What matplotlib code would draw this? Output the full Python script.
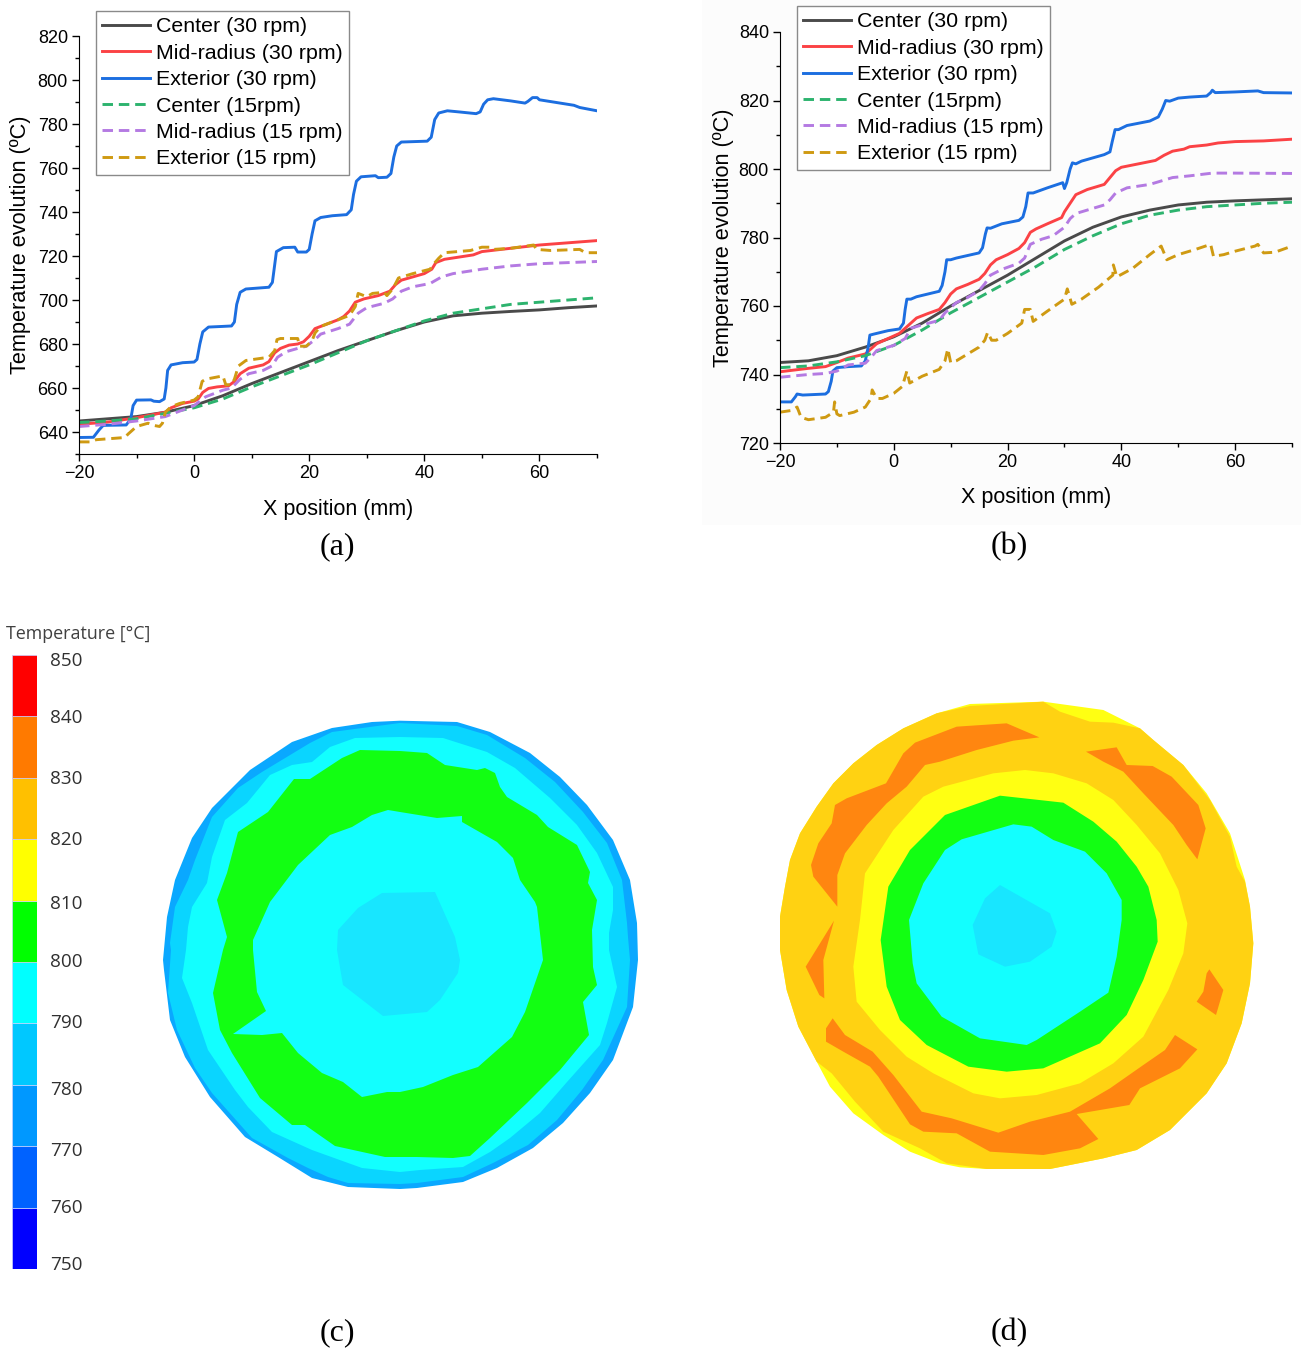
import numpy as np
import matplotlib
matplotlib.use('Agg')
import matplotlib.pyplot as plt
from matplotlib.patches import Rectangle
from matplotlib.ticker import MultipleLocator

W, H = 1301, 1351

series_labels = ['Center (30 rpm)', 'Mid-radius (30 rpm)', 'Exterior (30 rpm)',
                 'Center (15rpm)', 'Mid-radius (15 rpm)', 'Exterior (15 rpm)']
series_colors = ['#4a4a4a', '#fb4245', '#1c6ee0', '#2db36e', '#b47ae2', '#cf9a12']

# panel (a), (x mm, temperature)
a_center_30 = [(-20,645),(-15,646),(-10,647),(-5,649),(0,652),(5,656.5),(10,662),(15,667),(20,672),(25,677),(30,681.5),
               (35,686),(40,690),(45,692.8),(50,694),(55,694.8),(60,695.5),(65,696.5),(70,697.3)]
a_mid_30 = [(-20,643.5),(-15,644.5),(-10,646.5),(-5,649),(-4,651),(-2,653),(0,654),(0.7,655),(1.5,658),(2.5,659.8),(4,660.5),
            (6,661),(7,663),(8,666.5),(9.5,669),(12,670.5),(13,672),(14,676),(15,678),(16.5,679.5),(18,680),(19,681),(20,683.5),
            (21,687),(23,689),(25,691),(26,692.5),(27,695),(28,699),(29.5,700.5),(32,702),(34,704),(35,707),(36,709),(38,710.5),
            (40,712),(41.3,714),(42,717),(43.5,718.5),(46,719.5),(48.5,720.5),(50,722),(55,723.5),(60,725),(65,726),(70,727)]
a_ext_30 = [(-20,637.5),(-17.5,637.6),(-16.5,641),(-15.8,643),(-11.8,643.2),(-11,646),(-10.6,652),(-10,654.5),(-7.5,654.6),(-7,654),
            (-6,653.8),(-5.2,655),(-4.9,660),(-4.6,668),(-4,670.5),(-2,671.5),(0,671.8),(0.5,673),(1,680),(1.5,685.5),(2.5,687.7),
            (5,688),(6.5,688.2),(7,690),(7.4,698),(8,703.5),(9,705),(13,705.8),(13.6,708),(14,716),(14.3,722),(15.5,723.8),(17.5,724),
            (18,721.8),(19.5,721.8),(20,723),(20.5,730),(21,736),(22,737.5),(24,738.3),(26.5,738.8),(27.3,741),(27.7,748),(28.2,754),
            (29,756),(31.5,756.5),(32,755.6),(33.5,755.8),(34.2,757.5),(34.7,765),(35.2,770),(36,771.8),(40.5,772.2),(41.2,774),
            (41.8,782),(42.5,785),(44,786),(46,785.5),(49,784.7),(49.7,785.5),(50.3,789),(51,791),(52,791.5),(55,790.5),(57.5,789.5),
            (58,790.3),(58.8,792),(59.6,792),(60,791),(66,788.5),(67,787.5),(70,786)]
a_center_15 = [(-20,644.3),(-15,645),(-10,646),(-5,648.5),(0,651),(5,655),(10,660.5),(15,665.5),(20,670.5),(25,676),(30,681.5),
               (35,686),(40,690.5),(45,694),(50,696),(55,698),(60,699),(65,700),(70,701)]
a_mid_15 = [(-20,642.5),(-15,643.5),(-10,645),(-5,647),(0,652),(1,654),(2,656),(5,659),(6.5,660),(8,664),(9.5,666.5),(12,668),
            (13.5,670),(14.5,674),(16,676.5),(18,678),(19.5,679),(21,682),(22,684.5),(25,687),(27,689),(28.5,694),(30,696.5),(33,698.5),
            (34.5,700.5),(36,704),(38,706),(41,707.5),(43,710.5),(45,712),(50,714),(55,715.5),(60,716.5),(65,717),(70,717.5)]
a_ext_15 = [(-20,635.5),(-18,635.5),(-17,636.5),(-12,637.5),(-11.5,639),(-10,642.5),(-8,644),(-7,643),(-6,642.5),(-5.5,644),(-5,649),
            (-4,651.5),(-2.5,653),(0,654.5),(0.7,656),(1.4,663),(2,664),(5,665.5),(5.5,661.5),(6.5,661.5),(7,664),(7.7,670),(9,672.5),
            (13,674),(14,677),(14.4,682),(15,682.5),(18,682.5),(18.3,679),(19.5,679),(20.5,681.5),(21,685),(22,688),(25,691),(27,693),
            (28,697),(28.5,703),(30,701.5),(31,703),(33,703.5),(33.5,702),(34.5,705),(35.5,710),(38,712),(41,714),(41.5,716),(42.5,719),
            (43.5,721.5),(48,722.5),(50,724),(51.5,724),(52,723),(55,723.5),(59,725),(59.5,723),(62,722.5),(67,723),(68,721.5),(70,721.5)]

# panel (b)
b_center_30 = [(-20,743.5),(-15,744),(-10,745.5),(-5,748),(0,751),(5,755),(10,760),(15,764.5),(20,769),(25,774),(30,779),(35,783),
               (40,786),(45,788),(50,789.5),(55,790.3),(60,790.7),(65,791),(70,791.3)]
b_mid_30 = [(-20,740.8),(-15,741.8),(-12,742.3),(-10,743.5),(-8,744.8),(-5,746),(-4,747.5),(-3,749),(-1,750.5),(1,752),(2,753.5),
            (3,755),(4,756.5),(6,757.8),(8,759),(9,761),(10,763.5),(11,765),(13,766.3),(15,767.8),(16,769.5),(17,772),(18,773.5),(20,775),
            (22,776.8),(23,778.5),(24,781.5),(25,782.5),(27,784),(29.5,785.8),(30,787.5),(31,790),(32,792.5),(34,794),(37,795.5),(38,797.5),
            (39,799.5),(40,800.5),(43,801.5),(46,802.5),(47.5,804),(49,805.2),(51,805.8),(52,806.5),(55,807),(57,807.6),(60,808),(65,808.2),(70,808.7)]
b_ext_30 = [(-20,732),(-18,732),(-17.3,733.5),(-17,734.3),(-16,734),(-12,734.3),(-11.5,735),(-11,738),(-10.7,741),(-10,742),(-8,742.3),
            (-5.7,742.5),(-5,744),(-4.5,748),(-4.2,751.5),(-3.5,751.8),(-1,752.8),(1,753.3),(1.7,755),(2,759),(2.3,762),(3,762),(4,762.7),
            (8,764.3),(8.5,766),(9,770),(9.3,773.5),(10,773.5),(11,774),(15,775.5),(15.6,777),(16.1,781),(16.4,782.8),(17,782.7),(19,784),
            (22,785),(22.7,786),(23.2,789),(23.6,793),(24.5,793),(27,794.5),(29.7,796),(30,794.3),(30.4,796),(31,800),(31.4,801.8),(32,801.5),
            (33,802.3),(37,804.2),(38,805),(38.4,808),(38.9,811.5),(39.5,811.5),(41,812.7),(45,814),(46.5,815.2),(47.2,817.5),(47.8,820),
            (48.5,819.8),(50,820.7),(52,821),(55,821.3),(55.7,822.3),(56,823),(56.5,822.3),(60,822.5),(64,822.8),(65,822.3),(70,822.2)]
b_center_15 = [(-20,742),(-15,742.5),(-10,743.7),(-5,745.5),(0,748.5),(5,753),(10,758),(15,762.5),(20,767),(25,771.5),(30,776.5),
               (35,780.5),(40,784),(45,786.5),(50,788),(55,789),(60,789.5),(65,790),(70,790.3)]
b_mid_15 = [(-20,739.2),(-15,740),(-12,740.3),(-10,741),(-8,742.8),(-5,743.3),(-4,745),(-3,747),(0,748.5),(2,750.5),(3,753.5),(5,754.5),
            (8,755.8),(9,758),(11,761),(13,762.5),(15,764.5),(16,766.5),(17,769),(19,770.7),(22,772.5),(23,774),(24,778),(26,779.5),(28,780.5),
            (30,783),(31,785.5),(32,787),(34,788),(37,789.5),(38,791),(39,793),(41,794.5),(45,795.5),(47,796.5),(49,797.5),(52,798),(56,798.8),
            (60,798.8),(70,798.7)]
b_ext_15 = [(-20,729),(-18,729.5),(-17,730.5),(-16.3,727.5),(-15,726.8),(-12,727.5),(-10.6,729),(-10.4,732),(-10,728.5),(-9.5,728),(-7,729),
            (-5,730.5),(-4,733),(-3.8,735.5),(-3,733),(-2,733),(0,734.5),(1.5,736.5),(2.3,741),(2.8,737.5),(5,739.5),(8,741.5),(9,744),(9.5,747.5),
            (10,743.5),(11,744),(15,748),(16,750),(16.5,752.3),(17.2,750),(18,750),(20,752),(22.5,755),(23,759),(24,759),(24.5,755.5),(27,758.5),
            (30,762),(30.5,765),(31.3,760.5),(33,762),(36,765.5),(38.5,769),(38.6,772),(39.2,768.5),(42,771),(45,775),(47,777.5),(48,773.5),(50,775),
            (53,776.5),(55.7,778),(56.2,774.5),(58,775),(60,776),(63.5,777.5),(64,778),(65,775.5),(67,775.7),(70,777.5)]

a_series = [a_center_30, a_mid_30, a_ext_30, a_center_15, a_mid_15, a_ext_15]
b_series = [b_center_30, b_mid_30, b_ext_30, b_center_15, b_mid_15, b_ext_15]

# colour scale
cbar_levels = [750, 760, 770, 780, 790, 800, 810, 820, 830, 840]
cbar_colors = ['#0000ff', '#0062ff', '#0098ff', '#00c8ff', '#00ffff', '#00ff00', '#ffff00', '#ffc000', '#ff7a00', '#ff0000']
cbar_ticks = [850, 840, 830, 820, 810, 800, 790, 780, 770, 760, 750]
cbar_label_pos = [849.1, 839.8, 829.8, 819.9, 809.5, 800.0, 790.1, 779.2, 769.2, 760.0, 750.7]

# contour bands of panel (c), section units
c_band_770 = [(400,720.7),(457,722),(490,732),(530,753),(560,777),(587,805),(613,840),(630,880),(637,923),(638,960),(633,1007),(613,1060),
              (590,1093),(563,1123),(533,1148),(497,1168),(463,1182),(417,1188),(400,1189),(348,1187),(312,1178),(278,1157),(245,1137),(210,1097),
              (185,1057),(170,1020),(164,970),(163,960),(167,917),(175,880),(192,838),(212,808),(250,770),(292,742),(332,728),(372,722)]
c_band_780 = [(400,723),(457,726),(487,735),(525,758),(555,782),(583,812),(607,843),(622,880),(627,923),(628,937),(630,960),(627,1007),(603,1060),
              (582,1090),(557,1120),(528,1145),(493,1163),(463,1177),(417,1183),(400,1184),(348,1183),(328,1177),(308,1168),(288,1158),(252,1138),
              (212,1093),(195,1068),(177,1030),(168,993),(171,950),(170,943),(175,907),(188,880),(195,860),(212,817),(238,788),(262,772),(310,743),(332,732)]
c_band_790 = [(400,737),(443,738),(487,752),(515,768),(550,798),(577,825),(597,853),(613,887),(613,910),(609,933),(609,950),(617,987),(607,1023),
              (600,1045),(567,1082),(540,1113),(510,1138),(490,1152),(463,1167),(420,1170),(400,1172),(362,1168),(312,1150),(272,1132),(248,1107),
              (235,1090),(208,1050),(192,1003),(182,978),(186,950),(188,927),(192,907),(207,883),(212,857),(225,820),(247,803),(270,775),(292,765),
              (312,762),(330,747),(355,738)]
c_band_800 = [(400,751),(427,753),(445,765),(477,770),(485,768),(495,773),(500,787),(507,797),(537,815),(548,827),(577,845),(590,872),(588,883),
              (597,900),(592,930),(593,967),(597,985),(583,1002),(589,1035),(560,1070),(527,1103),(490,1138),(470,1156),(453,1158),(417,1157),(385,1157),
              (335,1146),(305,1125),(292,1125),(260,1098),(232,1053),(220,1030),(213,993),(223,950),(227,937),(217,900),(227,873),(238,832),(268,812),
              (294,779),(310,779),(342,758),(360,750)]
c_inner_790 = [(400,812),(437,818),(462,816),(462,822),(497,842),(513,858),(520,880),(535,902),(537,907),(543,960),(525,1012),(512,1037),(478,1067),
               (453,1075),(423,1087),(400,1092),(387,1092),(362,1097),(343,1082),(322,1073),(298,1053),(282,1033),(262,1035),(233,1034),(266,1011),
               (257,992),(253,950),(253,940),(270,902),(298,865),(330,835),(352,827),(372,815),(388,810)]
c_core = [(382,893),(435,892),(455,937),(460,960),(458,973),(440,1000),(427,1012),(383,1016),(343,985),(337,950),(338,930),(358,908)]

# contour bands of panel (d), section units
d_band_810 = [(850,35),(1030,60),(1140,115),(1180,150),(1270,225),(1340,310),(1410,430),(1455,570),(1470,650),(1480,760),(1470,880),(1445,1000),
              (1400,1120),(1340,1210),(1230,1320),(1130,1380),(1030,1405),(870,1437),(680,1437),(600,1432),(540,1420),(450,1385),(370,1335),(280,1270),
              (210,1190),(170,1115),(115,1010),(80,900),(60,780),(60,680),(75,590),(90,510),(120,430),(170,350),(220,280),(280,220),(350,165),(430,115),
              (530,70),(630,42)]
d_band_820 = [(630,48),(850,35),(900,65),(990,95),(1060,98),(1140,115),(1180,150),(1270,225),(1350,330),(1410,440),(1430,530),(1455,575),(1470,650),
              (1480,760),(1470,880),(1445,1000),(1400,1120),(1340,1210),(1230,1320),(1130,1380),(1030,1405),(870,1437),(680,1437),(560,1420),(480,1375),
              (370,1325),(285,1235),(215,1150),(170,1115),(115,1010),(80,900),(60,780),(60,680),(75,590),(90,510),(120,430),(170,350),(220,280),(280,220),
              (350,165),(430,115),(530,70)]
d_hot_1 = [(740,100),(838,142),(760,152),(650,180),(540,215),(495,225),(440,290),(380,340),(320,405),(255,490),(232,555),(232,650),(160,560),
           (153,525),(175,460),(215,400),(225,345),(260,325),(378,280),(430,190),(465,158),(590,110)]
d_hot_2 = [(978,185),(1070,172),(1100,225),(1178,228),(1235,260),(1315,345),(1337,415),(1312,508),(1280,465),(1240,405),(1150,310),(1090,245),(1030,215)]
d_hot_3 = [(222,692),(190,810),(193,925),(178,915),(137,830)]
d_hot_4 = [(1348,838),(1390,900),(1368,975),(1310,935),(1330,905),(1340,850)]
d_hot_5 = [(218,985),(255,1035),(338,1085),(400,1155),(485,1265),(575,1285),(715,1328),(810,1295),(930,1265),(1050,1195),(1150,1125),(1215,1080),
           (1245,1035),(1312,1078),(1260,1135),(1140,1195),(1108,1245),(950,1272),(1015,1347),(960,1375),(850,1395),(690,1385),(590,1330),(490,1325),
           (450,1303),(355,1160),(330,1130),(250,1085),(198,1055),(198,1015)]
d_ring_yellow = [(795,240),(880,250),(980,280),(1060,330),(1130,405),(1200,490),(1255,600),(1282,700),(1270,790),(1225,900),(1150,1040),(1060,1120),
                 (960,1180),(830,1215),(720,1225),(640,1210),(520,1150),(440,1100),(360,1020),(290,935),(280,830),(300,690),(315,550),(400,420),(490,320),
                 (550,290),(700,250)]
d_ring_green = [(720,317),(910,338),(1000,395),(1070,455),(1130,530),(1165,590),(1190,690),(1193,755),(1150,870),(1100,975),(1020,1060),(850,1135),
                (740,1145),(625,1130),(500,1065),(420,990),(380,890),(362,750),(385,590),(450,480),(555,375)]
d_ring_cyan = [(760,403),(815,410),(880,450),(975,485),(1040,550),(1085,630),(1085,690),(1070,800),(1045,908),(960,965),(830,1050),(800,1065),(660,1045),
               (545,980),(470,880),(458,820),(447,690),(490,580),(555,480),(605,448)]
d_core = [(720,585),(870,670),(890,725),(875,770),(810,815),(735,830),(655,793),(638,705),(675,625)]

plt.rcParams['font.family'] = ['Liberation Sans', 'DejaVu Sans']


def px_axes(fig, left, top, right, bottom):
    return fig.add_axes([left / W, 1 - bottom / H, (right - left) / W, (bottom - top) / H])


def plot_panel(fig, box, series, ylim, legend_box, ylabel_x, xlabel_y):
    ax = px_axes(fig, *box)
    ax.patch.set_alpha(0)
    for i, pts in enumerate(series):
        arr = np.array(pts)
        ls = '-' if i < 3 else (0, (3.6, 2.0))
        ax.plot(arr[:, 0], arr[:, 1], color=series_colors[i], lw=2.1, ls=ls, label=series_labels[i])
    ax.set_xlim(-20, 70)
    ax.set_ylim(*ylim)
    ax.spines['top'].set_visible(False)
    ax.spines['right'].set_visible(False)
    ax.set_xticks([-20, 0, 20, 40, 60])
    ax.set_xticklabels(['\u221220', '0', '20', '40', '60'])
    ax.xaxis.set_minor_locator(MultipleLocator(10))
    ax.yaxis.set_major_locator(MultipleLocator(20))
    ax.yaxis.set_minor_locator(MultipleLocator(10))
    ax.tick_params(which='major', length=5, width=1.0, labelsize=13, pad=3)
    ax.tick_params(which='minor', length=3, width=1.0)
    fig.text(ylabel_x / W, 1 - (box[1] + box[3]) / 2 / H, 'Temperature evolution (\u00baC)', rotation=90,
             fontsize=15.7, ha='center', va='center')
    fig.text((box[0] + box[2]) / 2 / W, 1 - xlabel_y / H, 'X position (mm)', fontsize=15.5, ha='center', va='center')
    ax.legend(loc='upper left', bbox_to_anchor=(legend_box[0] / W, 1 - legend_box[1] / H), bbox_transform=fig.transFigure,
              fontsize=15.4, frameon=True, fancybox=False, framealpha=1, edgecolor='#8a8a8a', borderaxespad=0,
              borderpad=0.3, labelspacing=0.345, handlelength=2.22, handletextpad=0.27)
    return ax


def section_axes(fig, box, xlim, ylim):
    ax = px_axes(fig, *box)
    ax.set_xlim(*xlim)
    ax.set_ylim(*ylim)
    ax.axis('off')
    return ax


def fill_band(ax, pts, color):
    arr = np.array(pts)
    ax.fill(arr[:, 0], arr[:, 1], color=color, lw=0)


fig = plt.figure(figsize=(W / 100, H / 100), dpi=100)

# faint grey backdrop of the (b) graph
fig.add_artist(Rectangle((702 / W, 1 - 525 / H), (W - 702) / W, 525 / H, transform=fig.transFigure,
                         facecolor='#fcfcfc', edgecolor='none', zorder=-5))

plot_panel(fig, (79, 36, 597, 454), a_series, (630, 820), (96, 11), 21, 509)
plot_panel(fig, (780, 32, 1292, 443), b_series, (720, 840), (797, 6), 723, 498)

for label, x, y in [('(a)', 337, 547), ('(b)', 1009, 547), ('(c)', 337, 1333), ('(d)', 1009, 1333)]:
    fig.text(x / W, 1 - y / H, label, family=['Liberation Serif'], fontsize=23, ha='center', va='center')

# colour bar
cax = px_axes(fig, 12, 655, 37, 1269)
cax.bar([0] * len(cbar_levels), [10] * len(cbar_levels), bottom=cbar_levels, width=1, color=cbar_colors,
        edgecolor='#c8d0ff', linewidth=0.5, align='edge')
cax.set_xlim(0, 1)
cax.set_ylim(750, 850)
cax.axis('off')
for t, pos in zip(cbar_ticks, cbar_label_pos):
    cax.text(1.52, pos, str(t), family=['Open Sans'], fontsize=13.6, color='#303030', ha='left', va='center')
fig.text(6 / W, 1 - 634 / H, 'Temperature [\u00b0C]', family=['Open Sans'], fontsize=12.9, color='#404040', ha='left', va='center')

# panel (c)
ax_c = section_axes(fig, (150, 700, 650, 1200), (150, 650), (1200, 700))
fill_band(ax_c, c_band_770, '#0aa8ff')
fill_band(ax_c, c_band_780, '#0ad5ff')
fill_band(ax_c, c_band_790, '#12ffff')
fill_band(ax_c, c_band_800, '#12ff12')
fill_band(ax_c, c_inner_790, '#12ffff')
fill_band(ax_c, c_core, '#18e6ff')

# panel (d)
ax_d = section_axes(fig, (760, 690, 1270, 1180), (0, 1530), (1470, 0))
fill_band(ax_d, d_band_810, '#ffff12')
fill_band(ax_d, d_band_820, '#ffd212')
for hot in [d_hot_1, d_hot_2, d_hot_3, d_hot_4, d_hot_5]:
    fill_band(ax_d, hot, '#ff8610')
fill_band(ax_d, d_ring_yellow, '#ffff12')
fill_band(ax_d, d_ring_green, '#12ff12')
fill_band(ax_d, d_ring_cyan, '#12ffff')
fill_band(ax_d, d_core, '#18e6ff')

fig.savefig('out.png', dpi=100)
